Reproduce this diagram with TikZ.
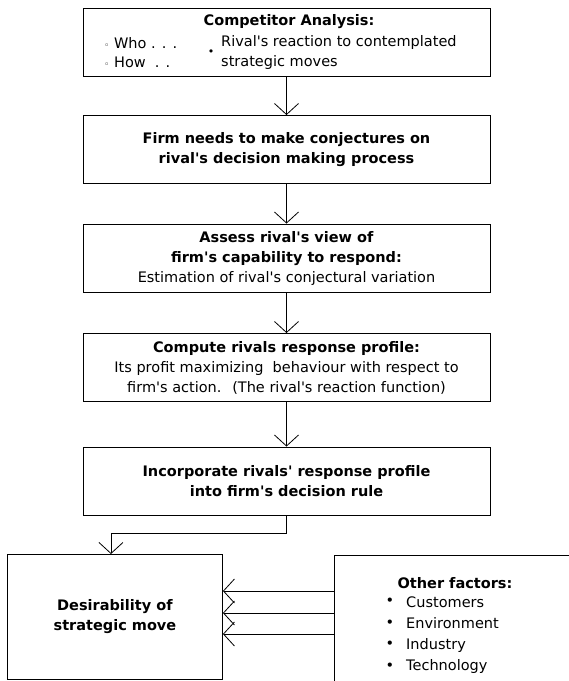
\documentclass[tikz,border=0pt]{standalone}
\usepackage{fontspec}
\setmainfont{DejaVu Sans}[Ligatures=TeXOff]
\usetikzlibrary{arrows.meta,positioning}

\begin{document}
\begin{tikzpicture}[x=1pt,y=-1pt,
    txt/.style={font=\fontsize{14.5}{20}\selectfont,inner sep=0pt},
    box/.style={draw,line width=0.9pt,minimum width=407pt,minimum height=68pt,
      align=center,txt},
    arr/.style={line width=0.8pt,-{Straight Barb[length=11pt,width=24pt,line width=0.8pt]}}]
  \useasboundingbox (0,0) rectangle (569,681);
  \clip (0,0) rectangle (569,681);
  \node[box] (comp) at (286.5,42.5) {};
  \node[txt,font=\fontsize{14.5}{20}\selectfont\bfseries] (comphd) at (289,22) {Competitor Analysis:};
  \node[txt,anchor=west] (who) at (104,43) {{\fontsize{9}{9}\selectfont◦}\ Who . . .};
  \node[txt,anchor=west] (how) at (104,62) {{\fontsize{9}{9}\selectfont◦}\ How \ . .};
  \node[txt] (dot) at (211,53) {\fontsize{11}{11}\selectfont•};
  \node[txt,anchor=west,align=left] (rival) at (221,52.5) {Rival's reaction to contemplated\\strategic moves};
  \node[box] (conj) at (286.5,149.5) {\textbf{Firm needs to make conjectures on}\\\textbf{rival's decision making process}};
  \node[box] (assess) at (286.5,258) {\textbf{Assess rival's view of}\\\textbf{firm's capability to respond:}\\Estimation of rival's conjectural variation};
  \node[box] (comput) at (286.5,367.5) {\textbf{Compute rivals response profile:}\\Its profit maximizing \ behaviour with respect to\\firm's action. \ (The rival's reaction function)};
  \node[box] (incorp) at (286.5,481) {\textbf{Incorporate rivals' response profile}\\\textbf{into firm's decision rule}};
  \node[box,minimum width=215pt,minimum height=125pt,anchor=north west] (desir) at (7,554) {\textbf{Desirability of}\\\textbf{strategic move}};
  \node[draw,line width=0.9pt,minimum width=250pt,minimum height=140pt,anchor=north west] (other) at (334,555) {};
  \node[txt,font=\fontsize{14.5}{20}\selectfont\bfseries] (othhd) at (455,583) {Other factors:};
  \foreach \t [count=\i] in {Customers,Environment,Industry,Technology}{
    \node[txt] (b\i) at (390,580.5+21.5*\i) {•};
    \node[txt,anchor=west] (f\i) at (406,580.5+21.5*\i) {\t};
  }
  \draw[arr] (comp) -- (conj);
  \draw[arr] (conj) -- (assess);
  \draw[arr] (assess) -- (comput);
  \draw[arr] (comput) -- (incorp);
  \draw[arr] (incorp.south) -- ++(0,18) -| ([xshift=-4pt]desir.north);
  \foreach \y [count=\i] in {591,613,634}{
    \coordinate (h\i) at (300,\y);
    \draw[arr] (other.west |- h\i) -- (desir.east |- h\i);
  }
\end{tikzpicture}
\end{document}
